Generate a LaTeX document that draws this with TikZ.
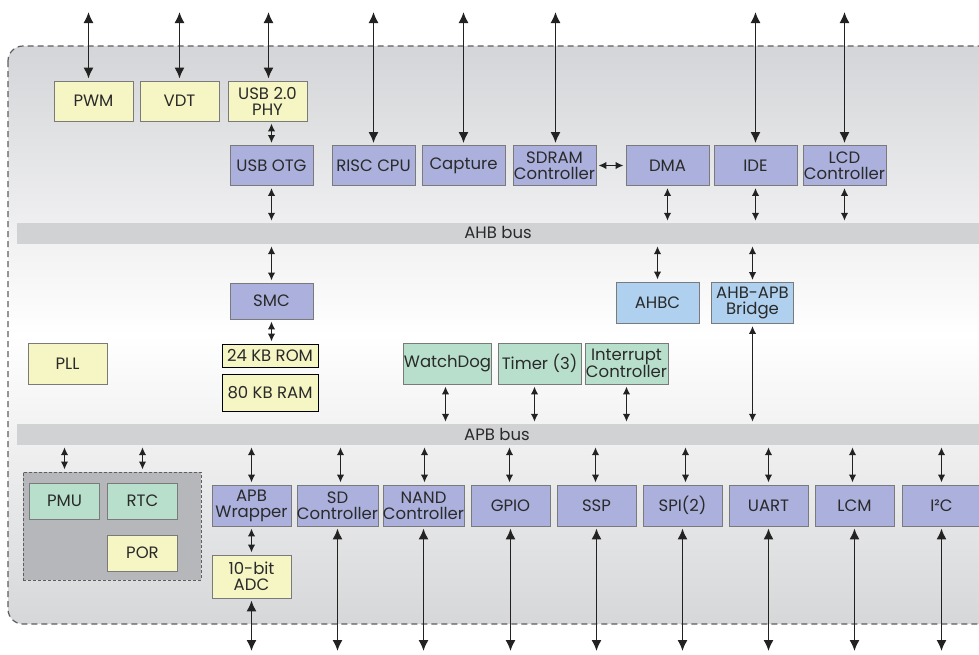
\documentclass[tikz,border=0pt]{standalone}
\usepackage{fontspec}
\setmainfont{Poppins}
\usetikzlibrary{arrows.meta,positioning}
\definecolor{ylwfill}{HTML}{F6F5C4}
\definecolor{blufill}{HTML}{ABB0DC}
\definecolor{lblufill}{HTML}{AFD1EF}
\definecolor{grnfill}{HTML}{B8DFCC}
\definecolor{busfill}{HTML}{D1D2D4}
\definecolor{boxline}{HTML}{7A7A7A}
\definecolor{edge}{HTML}{5E5E5E}
\definecolor{bgtop}{HTML}{D4D5D8}
\definecolor{bgbot}{HTML}{D6D7D9}
\definecolor{pwrfill}{HTML}{B5B7BA}
\definecolor{txt}{HTML}{2A2A2A}
\definecolor{arrowcol}{HTML}{222222}
\begin{document}
\begin{tikzpicture}[x=1pt,y=-1pt,
  blk/.style={draw=boxline,line width=.9pt,inner sep=0pt,align=center,text=txt,
    minimum width=79pt,minimum height=40pt,font=\fontsize{16.5}{16}\selectfont},
  ylw/.style={blk,fill=ylwfill},
  blu/.style={blk,fill=blufill,minimum width=83pt},
  lblu/.style={blk,fill=lblufill,minimum width=83pt,minimum height=41pt},
  grn/.style={blk,fill=grnfill,minimum width=83pt,minimum height=41pt},
  bus/.style={fill=busfill,inner sep=0pt,minimum width=973pt,minimum height=21pt},
  buslabel/.style={text=txt,inner sep=0pt,font=\fontsize{16.5}{16}\selectfont},
  link/.style={draw=arrowcol,line width=1.5pt,
    {Latex[length=8pt,width=7.5pt]}-{Latex[length=8pt,width=7.5pt]},
    shorten <=2pt,shorten >=2pt},
  longlink/.style={link,{Latex[length=11pt,width=10pt]}-{Latex[length=11pt,width=10pt]}}]
\path[use as bounding box,clip] (0,0) rectangle (979,654);
% Draw chip outline
\draw[edge,line width=1.2pt,dash pattern=on 6pt off 4pt,rounded corners=15pt,
  top color=bgtop,bottom color=bgbot,middle color=white] (8,46) rectangle (1000,624);
\coordinate (top) at (0,10);
\coordinate (bottom) at (0,653);
% Draw buses
\node[bus] (ahb) at (503.5,233.5) {};
\node[bus] (apb) at (503.5,434.5) {};
\node[buslabel] (ahblabel) at (498,232) {AHB bus};
\node[buslabel] (apblabel) at (497,434) {APB bus};
% Draw AHB blocks
\foreach \n/\x/\t in {pwm/93.5/PWM,vdt/179.5/VDT,phy/267.5/{USB 2.0\\PHY}}
  \node[ylw] (\n) at (\x,101) {\t};
\foreach \n/\x/\t in {otg/271.5/USB OTG,risc/373.5/RISC CPU,cap/463.5/Capture,
    sdram/554.5/{SDRAM\\Controller},dma/667.5/DMA,ide/755.5/IDE,lcd/844.5/{LCD\\Controller}}
  \node[blu] (\n) at (\x,165.5) {\t};
\node[blu,minimum height=36pt] (smc) at (271.5,301) {SMC};
\node[ylw,draw=black,minimum width=96pt,minimum height=23pt] (rom) at (270,355.5) {24 KB ROM};
\node[ylw,draw=black,minimum width=96pt,minimum height=37pt] (ram) at (270,392.5) {80 KB RAM};
\node[ylw,minimum height=41pt] (pll) at (67.5,363.5) {PLL};
\node[lblu] (ahbc) at (657.5,302.5) {AHBC};
\node[lblu,minimum width=82pt] (bridge) at (752.5,303) {AHB-APB\\Bridge};
% Draw APB blocks
\node[grn,minimum width=87pt] (wdog) at (447.5,363.5) {WatchDog};
\node[grn] (timer) at (539.5,363.5) {Timer (3)};
\node[grn] (intc) at (626.5,363.5) {Interrupt\\Controller};
\node[draw=edge,fill=pwrfill,line width=1pt,dash pattern=on 3pt off 2pt,
  minimum width=178pt,minimum height=108pt] (pwr) at (112,526) {};
\node[grn,minimum width=70pt,minimum height=36pt] (pmu) at (64.5,501) {PMU};
\node[grn,minimum width=70pt,minimum height=36pt] (rtc) at (142.5,501) {RTC};
\node[ylw,minimum width=70pt,minimum height=36pt] (por) at (142.5,553) {POR};
\node[ylw,minimum height=43pt] (adc) at (251.5,576.5) {10-bit\\ADC};
\foreach \n/\x/\t in {wrap/251.5/{APB\\Wrapper},sd/337.5/{SD\\Controller},
    nand/423.5/{NAND\\Controller},gpio/510.5/GPIO,ssp/596.5/SSP,spi/682.5/SPI(2),
    uart/768.5/UART,lcm/854.5/LCM,iic/941.5/I²C}
  \node[blu,minimum width=79pt,minimum height=41pt] (\n) at (\x,505.5) {\t};
% Draw AHB links
\foreach \n/\s in {pwm/-5,vdt/0,phy/1,risc/0,cap/0,sdram/1,ide/0,lcd/0}
  \draw[longlink] ([xshift=\s pt]\n.north |- top) -- ([xshift=\s pt]\n.north);
\draw[link] (otg.north |- phy.south) -- (otg.north);
\draw[link] (sdram) -- (dma);
\foreach \n in {otg,dma,ide,lcd}
  \draw[link] (\n.south) -- (\n.south |- ahb.north);
\foreach \n in {smc,ahbc,bridge}
  \draw[link] (\n.north |- ahb.south) -- (\n.north);
\draw[link] (smc.south) -- (smc.south |- rom.north);
% Draw APB links
\draw[link] (bridge.south) -- (bridge.south |- apb.north);
\foreach \n/\s in {wdog/-2,timer/-5,intc/0}
  \draw[link] ([xshift=\s pt]\n.south) -- ([xshift=\s pt]\n.south |- apb.north);
\foreach \n in {pmu,rtc}
  \draw[link] (\n.north |- apb.south) -- (\n.north |- pwr.north);
\foreach \n/\s in {wrap/0,sd/3,nand/1,gpio/-1,ssp/-1,spi/3,uart/0,lcm/-2,iic/0}
  \draw[link] ([xshift=\s pt]\n.north |- apb.south) -- ([xshift=\s pt]\n.north);
\draw[link] (wrap) -- (adc);
\foreach \n in {adc,sd,nand,gpio,ssp,spi,uart,lcm,iic}
  \draw[longlink] (\n.south) -- (\n.south |- bottom);
\end{tikzpicture}
\end{document}
